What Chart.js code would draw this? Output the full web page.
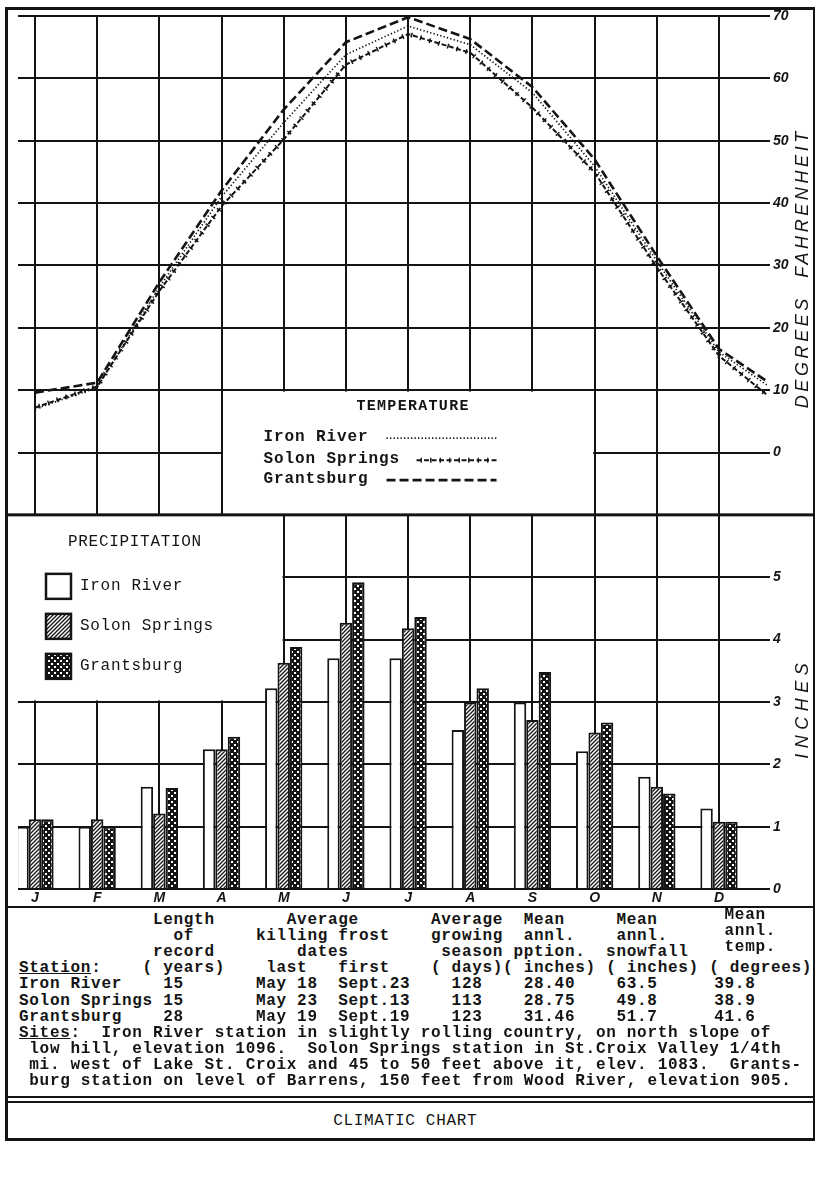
<!DOCTYPE html>
<html><head><meta charset="utf-8">
<script src="https://cdn.jsdelivr.net/npm/chart.js@4.4.1/dist/chart.umd.min.js"></script>
<style>
html,body{margin:0;padding:0;background:#fff}
body{position:relative;width:818px;height:1196px;overflow:hidden}
#c{position:absolute;left:0;top:0}
.t{position:absolute;margin:0;font:bold 16px "Liberation Mono",monospace;letter-spacing:0.7px;white-space:pre;color:#141414;line-height:18px;height:18px}
.n{font-weight:normal}
.r{position:absolute;background:#141414}
</style></head><body>
<canvas id="c" width="818" height="906"></canvas>
<script>
// ---------------- data ----------------
const months = ['J','F','M','A','M','J','J','A','S','O','N','D'];
const stations = ['Iron River','Solon Springs','Grantsburg'];
// mean monthly temperature, degrees F
const ironTemp   = [7.0, 10.4, 26.5, 41.0, 52.9, 63.8, 68.4, 65.4, 57.7, 45.9, 30.7, 16.1];
const solonTemp  = [7.2, 10.6, 25.9, 39.5, 50.2, 62.2, 67.1, 64.1, 55.3, 44.9, 29.7, 15.5];
const grantsTemp = [9.6, 11.2, 27.3, 42.0, 55.0, 65.8, 69.8, 66.3, 58.6, 47.0, 31.5, 16.6];
// the curves run on past December toward the next January; where they stop
const tailPos = 11.79;
const tailTemp = [10.7, 9.1, 11.3]; // Iron River, Solon Springs, Grantsburg
// mean monthly precipitation, inches
const ironPrecip   = [1.00, 1.00, 1.64, 2.24, 3.22, 3.70, 3.70, 2.55, 2.99, 2.21, 1.80, 1.29];
const solonPrecip  = [1.12, 1.12, 1.21, 2.24, 3.63, 4.27, 4.18, 2.99, 2.71, 2.51, 1.64, 1.08];
const grantsPrecip = [1.12, 1.00, 1.62, 2.44, 3.88, 4.92, 4.36, 3.22, 3.48, 2.67, 1.53, 1.08];
// tick labels
const tempTicks = [0, 10, 20, 30, 40, 50, 60, 70];
const precipTicks = [0, 1, 2, 3, 4, 5];
// table
const recordYears = ['15', '15', '28'];
const lastFrost = ['May 18', 'May 23', 'May 19'];
const firstFrost = ['Sept.23', 'Sept.13', 'Sept.19'];
const growingDays = ['128', '113', '123'];
const annualPrecip = ['28.40', '28.75', '31.46'];
const annualSnow = ['63.5', '49.8', '51.7'];
const annualTemp = ['39.8', '38.9', '41.6'];

const INK = '#141414';
const MONO = '"Liberation Mono", monospace';
const HAND = '"Liberation Sans", sans-serif';

const canvas = document.getElementById('c');
const cctx = canvas.getContext('2d');
function makeTile(w, h, draw) {
  const t = document.createElement('canvas'); t.width = w; t.height = h;
  draw(t.getContext('2d')); return cctx.createPattern(t, 'repeat');
}
const hatch = makeTile(4, 4, g => {
  g.fillStyle = '#fff'; g.fillRect(0, 0, 4, 4);
  g.strokeStyle = INK; g.lineWidth = 1.3; g.beginPath();
  g.moveTo(-1, 5); g.lineTo(5, -1); g.moveTo(-1, 1); g.lineTo(1, -1); g.moveTo(3, 5); g.lineTo(5, 3);
  g.stroke();
});
const cross = makeTile(6, 6, g => {
  g.fillStyle = INK; g.fillRect(0, 0, 6, 6);
  g.fillStyle = '#fff'; g.fillRect(0, 0, 2, 2); g.fillRect(3, 3, 2, 2);
});

const tempStyles = [
  {dash: [1.3, 2.2], width: 1.7, ticks: false},
  {dash: [5, 2.5], width: 2.0, ticks: true},
  {dash: [9, 4], width: 2.6, ticks: false}
];
const precipFills = ['#ffffff', hatch, cross];

const tempSeries = [ironTemp, solonTemp, grantsTemp];
const precipSeries = [ironPrecip, solonPrecip, grantsPrecip];

const datasets = [];
tempSeries.forEach((arr, s) => {
  const pts = arr.map((v, i) => ({x: i, y: v}));
  pts.push({x: tailPos, y: tailTemp[s]});
  datasets.push({
    type: 'line', label: stations[s], data: pts, yAxisID: 'yT',
    borderColor: INK, borderWidth: tempStyles[s].width, borderDash: tempStyles[s].dash,
    pointRadius: 0, tension: 0, fill: false
  });
});
precipSeries.forEach((arr, s) => {
  datasets.push({
    type: 'bar', label: stations[s], data: arr.map((v, i) => ({x: i, y: v})), yAxisID: 'y',
    backgroundColor: precipFills[s], borderColor: INK, borderWidth: 2,
    categoryPercentage: 0.6, barPercentage: 1.0
  });
});

// small cross-strokes along a polyline (the "+-+-+" line of Solon Springs)
function tickAlong(ctx, pts, step, len) {
  let carry = step / 2;
  ctx.beginPath();
  for (let i = 1; i < pts.length; i++) {
    const a = pts[i - 1], b = pts[i];
    const dx = b.x - a.x, dy = b.y - a.y, L = Math.hypot(dx, dy);
    if (!L) continue;
    const ux = dx / L, uy = dy / L, nx = -uy, ny = ux;
    let d = carry;
    while (d < L) {
      const px = a.x + ux * d, py = a.y + uy * d;
      ctx.moveTo(px - nx * len / 2, py - ny * len / 2);
      ctx.lineTo(px + nx * len / 2, py + ny * len / 2);
      d += step;
    }
    carry = d - L;
  }
  ctx.stroke();
}

function vtext(ctx, txt, cx, cy, sp) {
  ctx.save(); ctx.translate(cx, cy); ctx.rotate(-Math.PI / 2);
  ctx.letterSpacing = sp + 'px'; ctx.textAlign = 'center'; ctx.textBaseline = 'middle';
  ctx.fillText(txt, sp / 2, 0); ctx.restore();
}

const decor = {
  id: 'decor',
  beforeDatasetsDraw(chart) {
    const {ctx, scales: {x, y}} = chart;
    ctx.save();
    ctx.fillStyle = '#fff';
    // temperature key: blank block between Apr and Oct lines, below the 10° line
    const tx0 = x.getPixelForValue(3), tx1 = x.getPixelForValue(9);
    const ty0 = y.getPixelForValue(8), ty1 = y.getPixelForValue(6);
    ctx.fillRect(tx0 + 1.5, ty0 + 1.5, tx1 - tx0 - 3, ty1 - ty0 - 1);
    // precipitation key: blank block left of the May line, above the 3 in. line
    const px1 = x.getPixelForValue(4), py1 = y.getPixelForValue(3);
    ctx.fillRect(0, ty1, px1 - 1.2, py1 - ty1 - 1.5);
    // divider between the two graphs
    ctx.fillStyle = INK;
    ctx.fillRect(5, ty1 - 1.5, 810, 3);

    // temperature key text
    ctx.textBaseline = 'middle';
    ctx.font = 'bold 15px ' + MONO; ctx.letterSpacing = '1.3px'; ctx.textAlign = 'center';
    ctx.fillText('TEMPERATURE', (tx0 + tx1) / 2 + 5, ty0 + 16);
    ctx.font = 'bold 16px ' + MONO; ctx.letterSpacing = '0.9px'; ctx.textAlign = 'left';
    const rows = [ty0 + 47, ty0 + 69, ty0 + 89];
    stations.forEach((s, i) => {
      ctx.fillText(s, tx0 + 42, rows[i]);
      ctx.save();
      ctx.strokeStyle = INK; ctx.lineWidth = tempStyles[i].width; ctx.setLineDash(tempStyles[i].dash);
      const xa = tx0 + (i === 1 ? 195 : 165), xb = tx0 + 275, yy = rows[i] + 1;
      ctx.beginPath(); ctx.moveTo(xa, yy); ctx.lineTo(xb, yy); ctx.stroke();
      if (tempStyles[i].ticks) {
        ctx.setLineDash([]); ctx.lineWidth = 1.4;
        tickAlong(ctx, [{x: xa, y: yy}, {x: xb, y: yy}], 9.5, 5);
      }
      ctx.restore();
    });

    // precipitation key
    ctx.font = '16px ' + MONO; ctx.letterSpacing = '0.7px';
    ctx.fillText('PRECIPITATION', 68, ty1 + 27);
    const prow = [ty1 + 71, ty1 + 111, ty1 + 151];
    stations.forEach((s, i) => {
      ctx.fillStyle = precipFills[i];
      ctx.fillRect(46, prow[i] - 12, 25, 25);
      ctx.strokeStyle = INK; ctx.lineWidth = 2.5; ctx.setLineDash([]);
      ctx.strokeRect(46, prow[i] - 12, 25, 25);
      ctx.fillStyle = INK;
      ctx.fillText(s, 80, prow[i]);
    });
    ctx.restore();
  },
  afterDatasetsDraw(chart) {
    const {ctx} = chart;
    ctx.save();
    ctx.strokeStyle = INK; ctx.lineWidth = 1.4;
    tempStyles.forEach((st, i) => {
      if (!st.ticks) return;
      const pts = chart.getDatasetMeta(i).data.map(p => ({x: p.x, y: p.y}));
      tickAlong(ctx, pts, 9.5, 5);
    });
    ctx.restore();
  },
  afterDraw(chart) {
    const {ctx, chartArea: ca} = chart;
    ctx.save();
    ctx.fillStyle = INK;
    ctx.font = 'italic 18px ' + HAND;
    vtext(ctx, 'DEGREES  FAHRENHEIT', ca.right + 33, 270, 3.6);
    vtext(ctx, 'INCHES', ca.right + 33, 711, 5.5);
    ctx.restore();
  }
};

new Chart(canvas, {
  type: 'bar',
  data: {datasets},
  options: {
    responsive: false, animation: false, events: [],
    layout: {padding: {left: 18, top: 16, right: 0, bottom: 0}},
    plugins: {legend: {display: false}, tooltip: {enabled: false}},
    scales: {
      x: {
        type: 'linear', min: -0.273, max: 11.82, offset: false,
        afterBuildTicks: ax => { ax.ticks = months.map((m, i) => ({value: i})); },
        afterFit: ax => { ax.height = 17; },
        ticks: {
          autoSkip: false, maxRotation: 0, padding: 1, color: INK,
          font: {family: HAND, size: 14, style: 'italic', weight: 'bold'},
          callback: (v, i) => months[i]
        },
        grid: {offset: false, color: INK, lineWidth: 2, drawTicks: false},
        border: {display: false}
      },
      y: {
        type: 'linear', position: 'right', min: 0, max: 14,
        afterFit: ax => { ax.width = 48; },
        ticks: {
          stepSize: 1, padding: 3, color: INK,
          font: {family: HAND, size: 14, style: 'italic', weight: 'bold'},
          callback: v => {
            if (precipTicks.includes(v)) return String(v);
            const t = (v - 7) * 10;
            if (v >= 7 && tempTicks.includes(t)) return String(t);
            return '';
          }
        },
        grid: {color: INK, lineWidth: 2, drawTicks: false},
        border: {display: false}
      },
      yT: {type: 'linear', display: false, min: -70, max: 70}
    }
  },
  plugins: [decor]
});

// ---------------- frame and table (typed text) ----------------
const CH = 10.3, X0 = 19, ROW0 = 920, LH = 16.1;
function put(html, col, row, cls, dy) {
  const d = document.createElement('div');
  d.className = 't' + (cls ? ' ' + cls : '');
  d.innerHTML = html;
  d.style.left = (X0 + col * CH) + 'px';
  d.style.top = (ROW0 + row * LH - 9 + (dy || 0)) + 'px';
  document.body.appendChild(d);
}
function rule(x, y, w, h) {
  const d = document.createElement('div'); d.className = 'r';
  Object.assign(d.style, {left: x + 'px', top: y + 'px', width: w + 'px', height: h + 'px'});
  document.body.appendChild(d);
}
const BOTTOM = 1138;
// frame
rule(5, 7, 810, 2.5);
rule(5, 7, 2.5, BOTTOM - 7 + 2.5);
rule(812.5, 7, 2.5, BOTTOM - 7 + 2.5);
rule(5, BOTTOM, 810, 2.5);
rule(5, 905.5, 810, 2.5);
rule(5, 1096, 810, 2);
rule(5, 1100.5, 810, 2);

const header = [
  ['Length', 13, 0], ['Average', 26, 0], ['Average', 40, 0], ['Mean', 49, 0], ['Mean', 58, 0],
  ['of', 15, 1], ['killing frost', 23, 1], ['growing', 40, 1], ['annl.', 49, 1], ['annl.', 58, 1],
  ['record', 13, 2], ['dates', 27, 2], ['season', 41, 2], ['pption.', 48, 2], ['snowfall', 57, 2],
  ['<u>Station</u>:', 0, 3], ['( years)', 12, 3], ['last', 24, 3], ['first', 31, 3],
  ['( days)( inches) ( inches) ( degrees)', 40, 3]
];
header.forEach(h => put(h[0], h[1], h[2]));
[['Mean', 0], ['annl.', 1], ['temp.', 2]].forEach(h => put(h[0], 68.5, h[1], '', -5));
const cols = [0, 14, 23, 31, 42, 49, 58, 67.5];
stations.forEach((s, i) => {
  [s, recordYears[i], lastFrost[i], firstFrost[i], growingDays[i], annualPrecip[i], annualSnow[i], annualTemp[i]]
    .forEach((v, k) => put(v, cols[k], 4 + i));
});
const sites = [
  '<u>Sites</u>:  Iron River station in slightly rolling country, on north slope of',
  ' low hill, elevation 1096.  Solon Springs station in St.Croix Valley 1/4th',
  ' mi. west of Lake St. Croix and 45 to 50 feet above it, elev. 1083.  Grants-',
  ' burg station on level of Barrens, 150 feet from Wood River, elevation 905.'
];
sites.forEach((s, i) => put(s, 0, 7 + i));
put('CLIMATIC CHART', 30.5, 12.5, 'n');
</script></body></html>
